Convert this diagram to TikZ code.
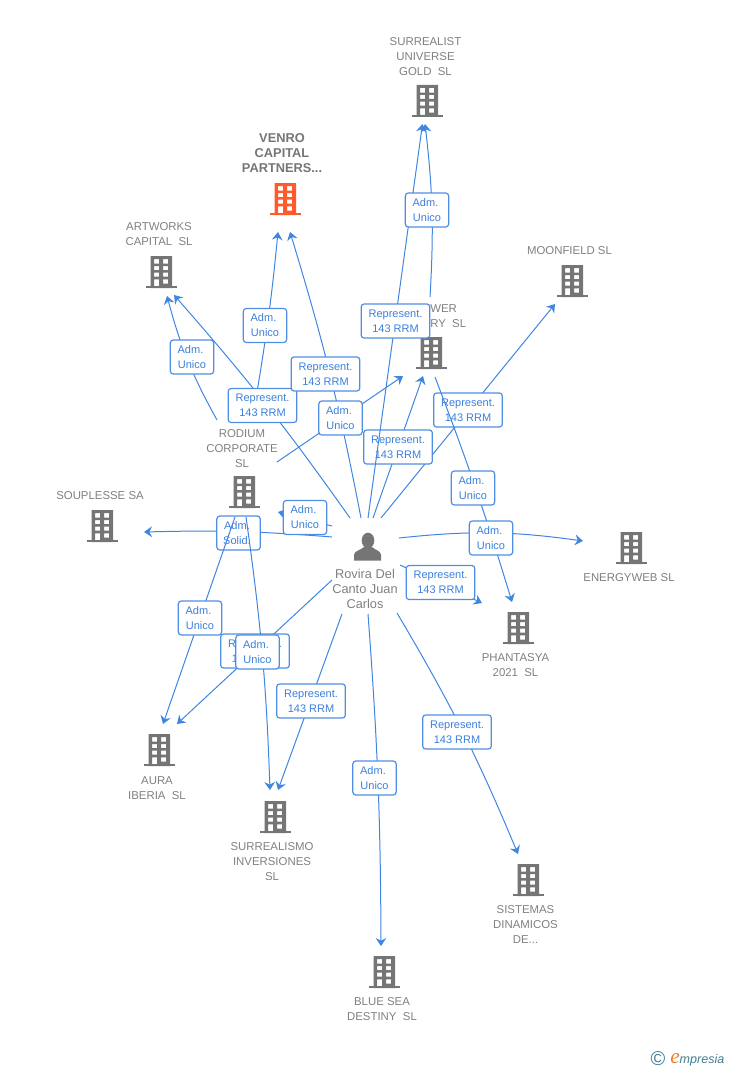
\documentclass[tikz,border=0pt]{standalone}
\usepackage{fontspec}
\setmainfont{Liberation Sans}
\usetikzlibrary{arrows.meta}

\definecolor{edgeblue}{HTML}{3F86E2}
\definecolor{boxblue}{HTML}{4F8FE3}
\definecolor{textblue}{HTML}{3C80DC}
\definecolor{namegray}{HTML}{808080}
\definecolor{icongray}{HTML}{757575}
\definecolor{iconorange}{HTML}{FF5A2B}
\definecolor{logoteal}{HTML}{3F7F92}
\definecolor{logoorange}{HTML}{F08020}

\tikzset{
    edgeline/.style={edgeblue, line width=0.75pt, -{Stealth[length=6pt, width=8pt, inset=2pt]}},
    tagbox/.style={draw=boxblue, line width=0.9pt, fill=white, rounded corners=2.2pt, text=textblue, align=center, inner sep=0pt, minimum height=25.5pt, font=\fontsize{8.25}{11.25}\selectfont},
    reprbox/.style={tagbox, minimum width=51.5pt},
    admbox/.style={tagbox, minimum width=32.5pt},
    firmname/.style={text=namegray, align=center, inner sep=0pt, yshift=-0.75pt, font=\fontsize{8.55}{11.25}\selectfont},
    building/.pic={
        \fill[pic actions, even odd rule] (-10.5,-16) rectangle (11,16)
            (-7,-13) rectangle (-2,-8.3) (2,-13) rectangle (7,-8.3)
            (-7,-6) rectangle (-2,-2) (2,-6) rectangle (7,-2)
            (-7,0.7) rectangle (-2,4.7) (2,0.7) rectangle (7,4.7)
            (-7,7.3) rectangle (-2,14) (2,7.3) rectangle (7,11.7);
        \fill[pic actions] (-15.5,14.2) rectangle (15.5,16.4);
    }
}

\newcommand{\reprtext}{Represent.\\143 RRM}
\newcommand{\admtext}{Adm.\ \mbox{}\\Unico}

\begin{document}
\begin{tikzpicture}[x=0.75pt, y=-0.75pt]
    \useasboundingbox (0,0) rectangle (728,1070);

    % companies
    \pic[fill=icongray] at (427,101) {building};
    \node[firmname] (surrealist) at (425.5,56) {SURREALIST\\UNIVERSE\\GOLD\ \ SL};
    \pic[fill=iconorange] at (285,199) {building};
    \node[firmname, font=\fontsize{9.6}{11.25}\selectfont\bfseries, text=icongray] (venro) at (282,152) {VENRO\\CAPITAL\\PARTNERS...};
    \pic[fill=icongray] at (161,272) {building};
    \node[firmname] (artworks) at (159,233.5) {ARTWORKS\\CAPITAL\ \ SL};
    \pic[fill=icongray] at (572,281) {building};
    \node[firmname] (moonfield) at (569.5,250) {MOONFIELD SL};
    \pic[fill=icongray] at (431,353) {building};
    \node[firmname, align=left, anchor=west] (tower) at (430,315.5) {WER\\RY\ \ SL};
    \pic[fill=icongray] at (244,492) {building};
    \node[firmname] (rodium) at (242,448) {RODIUM\\CORPORATE\\SL};
    \pic[fill=icongray] at (102,526) {building};
    \node[firmname] (souplesse) at (100,495) {SOUPLESSE SA};
    \pic[fill=icongray] at (631,548) {building};
    \node[firmname] (energyweb) at (629,577) {ENERGYWEB SL};
    \pic[fill=icongray] at (518,628) {building};
    \node[firmname] (phantasya) at (515.5,664.5) {PHANTASYA\\2021\ \ SL};
    \pic[fill=icongray] at (159,750) {building};
    \node[firmname] (aura) at (157,787.5) {AURA\\IBERIA\ \ SL};
    \pic[fill=icongray] at (275,817) {building};
    \node[firmname] (surrealismo) at (272,861) {SURREALISMO\\INVERSIONES\\SL};
    \pic[fill=icongray] at (528,880) {building};
    \node[firmname] (sistemas) at (525.5,924) {SISTEMAS\\DINAMICOS\\DE...};
    \pic[fill=icongray] at (384,972) {building};
    \node[firmname] (bluesea) at (382,1008.5) {BLUE SEA\\DESTINY\ \ SL};

    % person
    \fill[icongray] (368,540.5) ellipse (6.3 and 7.8);
    \fill[icongray] (354,560.5) -- (354,554.5) .. controls (355,550.5) and (360,550.5) .. (364,547) -- (372,547) .. controls (376,550.5) and (380,550.5) .. (381,554.5) -- (381,560.5) -- cycle;
    \node[firmname, font=\fontsize{9.6}{11.25}\selectfont] (rovira) at (365,588) {Rovira Del\\Canto Juan\\Carlos};

    % free ends of the lines
    \coordinate (p-artworks) at (350,518);
    \coordinate (p-venro) at (361,518);
    \coordinate (p-surrealist) at (368,518);
    \coordinate (p-tower) at (373,518);
    \coordinate (p-moonfield) at (381,518);
    \coordinate (p-energyweb) at (399,538);
    \coordinate (p-phantasya) at (400,565);
    \coordinate (p-sistemas) at (397,613);
    \coordinate (p-bluesea) at (368,614);
    \coordinate (p-surrealismo) at (342,614);
    \coordinate (p-aura) at (332,580);
    \coordinate (p-souplesse) at (332,537);
    \coordinate (p-rodium) at (332,526);
    \coordinate (r-artworks) at (217,420);
    \coordinate (r-venro) at (256,398);
    \coordinate (r-tower) at (277,462);
    \coordinate (r-aura) at (235,517);
    \coordinate (r-surrealismo) at (246,517);
    \coordinate (t-surrealist) at (430,297);
    \coordinate (t-phantasya) at (435,377);
    \coordinate (to-surrealist-a) at (422.5,124);
    \coordinate (to-surrealist-b) at (425,124);
    \coordinate (to-venro-a) at (278,232);
    \coordinate (to-venro-b) at (290,232);
    \coordinate (to-artworks-a) at (167,296);
    \coordinate (to-artworks-b) at (174,295);
    \coordinate (to-moonfield) at (555,304);
    \coordinate (to-tower-a) at (403,376);
    \coordinate (to-tower-b) at (423,376);
    \coordinate (to-rodium) at (278,512);
    \coordinate (to-souplesse) at (144,532);
    \coordinate (to-energyweb) at (583,541);
    \coordinate (to-phantasya-a) at (482,603);
    \coordinate (to-phantasya-b) at (512,602);
    \coordinate (to-sistemas) at (518,854);
    \coordinate (to-bluesea) at (381,946);
    \coordinate (to-surrealismo-a) at (270,790);
    \coordinate (to-surrealismo-b) at (278,790);
    \coordinate (to-aura-a) at (163,724);
    \coordinate (to-aura-b) at (177,724);

    % relations
    \draw[edgeline] (p-souplesse) to[bend right=3] (to-souplesse);
    \node[admbox] (solid) at (238.5,533) {Adm.\ \mbox{}\\Solid.\ \mbox{}};
    \draw[edgeline] (p-rodium) -- (to-rodium);
    \node[admbox] (adm-rodium) at (305,517.5) {\admtext};

    \draw[edgeline] (r-artworks) to[bend left=7] (to-artworks-a);
    \node[admbox] (adm-artworks) at (192,357) {\admtext};
    \draw[edgeline] (r-venro) to[bend right=2] (to-venro-a);
    \node[admbox] (adm-venro) at (265,325.5) {\admtext};
    \draw[edgeline] (p-artworks) to[bend right=3] (to-artworks-b);
    \node[reprbox] (rep-artworks) at (262.5,405.5) {\reprtext};
    \draw[edgeline] (p-venro) to[bend right=3] (to-venro-b);
    \node[reprbox] (rep-venro) at (325.5,374) {\reprtext};
    \draw[edgeline] (r-tower) -- (to-tower-a);
    \node[admbox] (adm-tower) at (340.5,418) {\admtext};

    \draw[edgeline] (p-tower) -- (to-tower-b);
    \draw[edgeline] (p-moonfield) -- (to-moonfield);
    \node[reprbox] (rep-tower) at (398,447) {\reprtext};
    \node[reprbox] (rep-moonfield) at (468,410) {\reprtext};
    \draw[edgeline] (p-surrealist) -- (to-surrealist-a);
    \node[reprbox] (rep-surrealist) at (395.5,321) {\reprtext};
    \draw[edgeline] (t-surrealist) to[bend right=5] (to-surrealist-b);
    \node[admbox] (adm-surrealist) at (427,210) {\admtext};

    \draw[edgeline] (t-phantasya) to[bend left=2] (to-phantasya-b);
    \node[admbox] (adm-phantasya) at (473,488) {\admtext};
    \draw[edgeline] (p-energyweb) to[bend left=7] (to-energyweb);
    \node[admbox] (adm-energyweb) at (491,538) {\admtext};
    \draw[edgeline] (p-phantasya) -- (to-phantasya-a);
    \node[reprbox] (rep-phantasya) at (440.5,582.5) {\reprtext};

    \draw[edgeline] (p-sistemas) to[bend left=4] (to-sistemas);
    \node[reprbox] (rep-sistemas) at (457,732) {\reprtext};
    \draw[edgeline] (p-bluesea) to[bend left=2] (to-bluesea);
    \node[admbox] (adm-bluesea) at (374.5,778) {\admtext};
    \draw[edgeline] (p-surrealismo) -- (to-surrealismo-b);
    \node[reprbox] (rep-surrealismo) at (311,701) {\reprtext};

    \draw[edgeline] (r-aura) -- (to-aura-a);
    \node[admbox] (adm-aura) at (200,618) {\admtext};
    \draw[edgeline] (p-aura) -- (to-aura-b);
    \node[reprbox] (rep-aura) at (255,651) {\reprtext};
    \draw[edgeline] (r-surrealismo) to[bend left=3] (to-surrealismo-a);
    \node[admbox] (adm-surrealismo) at (257.5,652) {\admtext};

    % logo
    \node[text=logoteal, inner sep=0pt, font=\fontsize{15}{15}\selectfont] (logomark) at (658,1059) {©};
    \node[anchor=west, inner sep=0pt, text=logoteal, font=\fontsize{9.4}{11}\selectfont\itshape] (logoname) at (670,1060) {{\fontspec{Liberation Serif}\fontsize{16}{16}\selectfont\color{logoorange}e}mpresia};
\end{tikzpicture}
\end{document}
